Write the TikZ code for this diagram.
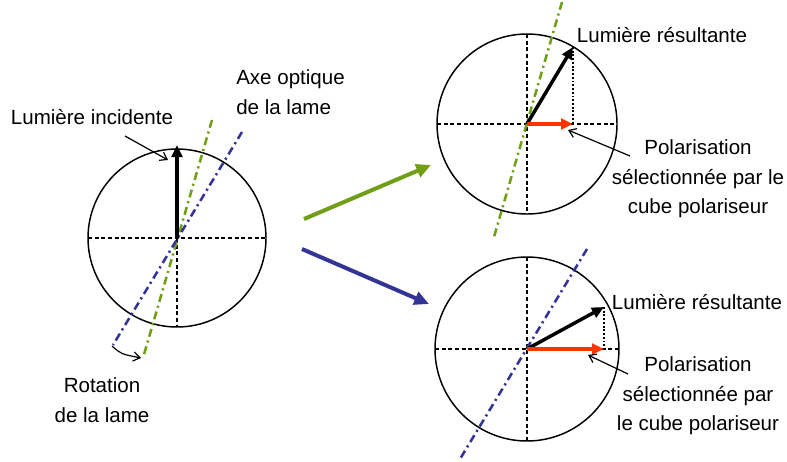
\documentclass[tikz,border=0pt]{standalone}
\usepackage{fontspec}
\setmainfont{Liberation Sans}
\usetikzlibrary{arrows.meta,calc}
\definecolor{axegreen}{RGB}{112,158,22}
\definecolor{axeblue}{RGB}{52,52,150}
\definecolor{polred}{RGB}{255,52,0}

\begin{document}
\begin{tikzpicture}[x=0.75pt, y={(0pt,-0.75pt)}, >={Straight Barb[length=5pt, width=7pt]},
    lbl/.style={align=center, font=\fontsize{15.4}{22}\selectfont, inner sep=0pt},
    disc/.style={draw, line width=1.1pt},
    cross/.style={dash pattern=on 3pt off 2pt, line width=0.8pt},
    axeline/.style={line width=1.9pt, dash pattern=on 6pt off 3pt on 1.6pt off 3pt},
    vect/.style={line width=2.6pt, -{Triangle[length=9pt, width=8pt]}},
    proj/.style={dash pattern=on 1.4pt off 1.4pt, line width=1.5pt},
    pointer/.style={line width=0.9pt, ->},
    route/.style={line width=3pt, -{Triangle[length=11pt, width=10pt]}}]
    \useasboundingbox (0,0) rectangle (787,461);

    % centres of the three discs
    \coordinate (O1) at (177,238);
    \coordinate (O2) at (527,124);
    \coordinate (O3) at (527,349);

    % discs and reference axes
    \draw[disc] (O1) circle[radius=89];
    \draw[disc] (O2) circle[radius=90];
    \draw[disc] (O3) circle[radius=92];
    \draw[cross] (88,238) -- (266,238);
    \draw[cross] (O1) -- (177,327);
    \draw[cross] (437,124) -- (617,124);
    \draw[cross] (527,34) -- (527,214);
    \draw[cross] (435,349) -- (619,349);
    \draw[cross] (527,257) -- (527,441);

    % optical axes of the plate
    \draw[axeline, axegreen] (212,120) -- (143,358);
    \draw[axeline, axeblue] (242,132) -- (113,345);
    \draw[axeline, axegreen] (562,2) -- (494,237);
    \draw[axeline, axeblue] (587,249) -- (460,459);

    % rotation of the plate
    \coordinate (rotA) at (112,346);
    \coordinate (rotB) at (141,358);
    \draw[pointer] (rotA) .. controls (121,354) .. (rotB);

    % light vectors
    \coordinate (inc) at (177,145);
    \coordinate (res1) at (573,47);
    \coordinate (sel1) at (573,124);
    \coordinate (res2) at (604,307);
    \coordinate (sel2) at (604,349);
    \draw[vect] (O1) -- (inc);
    \draw[proj] (res1) -- (sel1);
    \draw[proj] (res2) -- (sel2);
    \draw[vect] (O2) -- (res1);
    \draw[vect] (O3) -- (res2);
    \draw[vect, polred] (O2) -- (sel1);
    \draw[vect, polred] (O3) -- (sel2);

    % labels
    \node[lbl] (incLbl) at (92,117) {Lumière incidente};
    \node[lbl, anchor=west, align=left] (axeLbl) at (236,92) {Axe optique\\de la lame};
    \node[lbl] (rotLbl) at (102,400) {Rotation\\de la lame};
    \node[lbl] (resLbl1) at (662,35) {Lumière résultante};
    \node[lbl] (polLbl1) at (698,179) {Polarisation\\sélectionnée par le\\cube polariseur};
    \node[lbl] (resLbl2) at (697,302) {Lumière résultante};
    \node[lbl] (polLbl2) at (698,396) {Polarisation\\sélectionnée par\\le cube polariseur};

    % pointers from the labels
    \coordinate (incFrom) at (125,136);
    \coordinate (incTo) at (168,160);
    \coordinate (polFrom1) at (630,156);
    \coordinate (polTo1) at (568,130);
    \coordinate (polFrom2) at (628,374);
    \coordinate (polTo2) at (588,355);
    \draw[pointer] (incFrom) -- (incTo);
    \draw[pointer] (polFrom1) -- (polTo1);
    \draw[pointer] (polFrom2) -- (polTo2);

    % the two cases
    \coordinate (up0) at (304,219);
    \coordinate (up1) at (431,165);
    \coordinate (dn0) at (302,249);
    \coordinate (dn1) at (429,304);
    \draw[route, axegreen] (up0) -- (up1);
    \draw[route, axeblue] (dn0) -- (dn1);
\end{tikzpicture}
\end{document}
